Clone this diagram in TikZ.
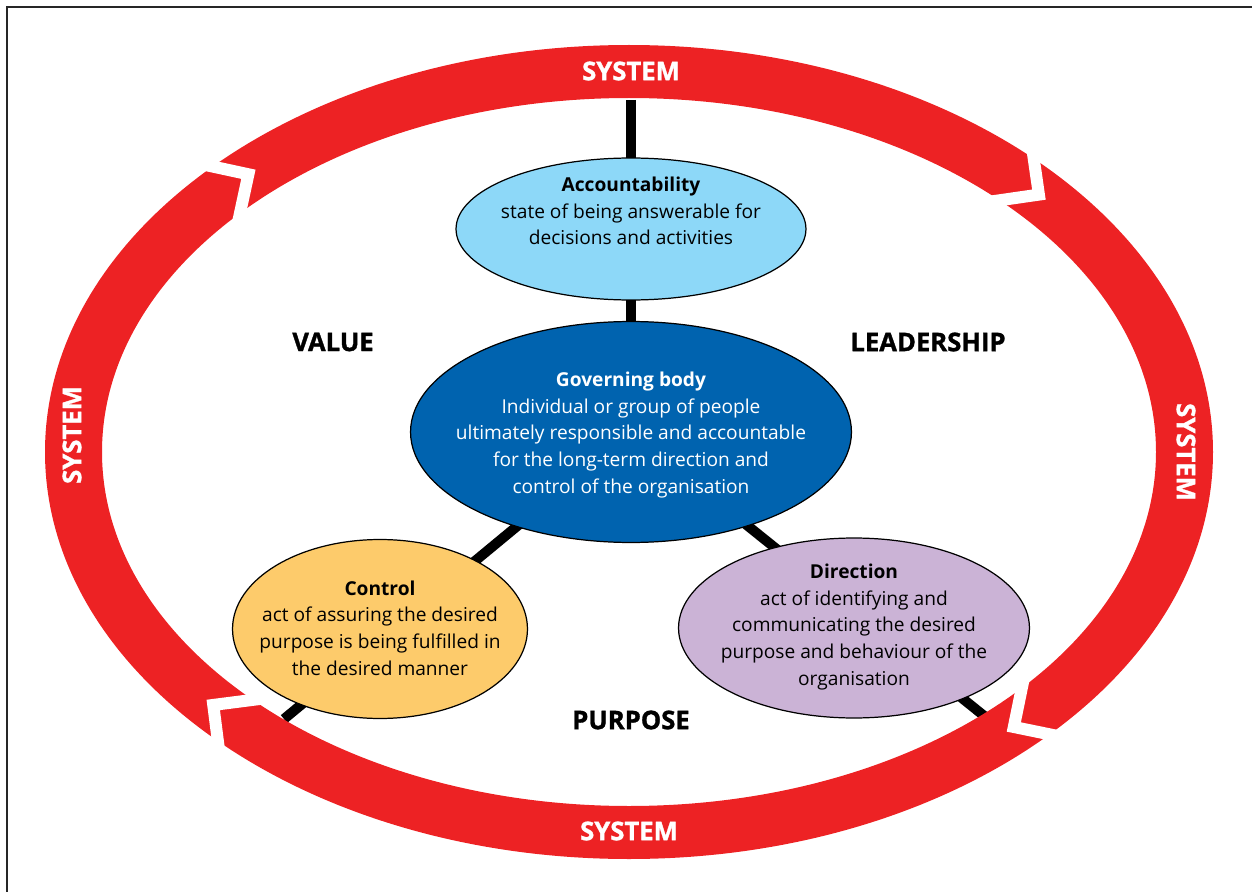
\documentclass[tikz,border=0pt]{standalone}
\usepackage{fontspec}
\setmainfont{Open Sans}
\newfontfamily\heavyfont{Open Sans}[FakeBold=1.2]
\usetikzlibrary{shapes.geometric}
\usetikzlibrary{backgrounds}
\definecolor{sysred}{RGB}{237,34,36}
\definecolor{acccol}{RGB}{141,216,248}
\definecolor{govcol}{RGB}{0,99,175}
\definecolor{ctrlcol}{RGB}{253,203,107}
\definecolor{dircol}{RGB}{203,179,214}

\begin{document}
\begin{tikzpicture}[x=0.02cm,y=-0.02cm,
		bubble/.style={ellipse,draw=black,line width=0.7pt,inner sep=0pt},
		txt/.style={align=center,font=\fontsize{10.9}{15.2}\selectfont},
		word/.style={font=\fontsize{14.6}{16}\selectfont\heavyfont\bfseries},
		sysword/.style={word,text=white},
		link/.style={line width=0.2cm},
		gap/.style={draw=white,line width=0.24cm}
	]
	\useasboundingbox (0,0) rectangle (1252,892);
	\draw [line width=1.2pt, black!85] (7,892) -- (7,7) -- (1252,7);
	
	\node [bubble, fill=acccol, minimum width=7cm, minimum height=2.84cm] (acc) at (631,229) {};
	\node [bubble, fill=govcol, minimum width=8.82cm, minimum height=4.42cm] (gov) at (631,432) {};
	\node [bubble, fill=ctrlcol, minimum width=5.9cm, minimum height=3.58cm] (ctrl) at (380,629) {};
	\node [bubble, fill=dircol, minimum width=7.02cm, minimum height=3.6cm] (dir) at (854,628) {};
	
	\node [txt] (acctxt) at (631,211) {\textbf{Accountability}\\state of being answerable for\\decisions and activities};
	\node [txt, text=white] (govtxt) at (631,435) {\textbf{Governing body}\\Individual or group of people\\ultimately responsible and accountable\\for the long-term direction and\\control of the organisation};
	\node [txt] (ctrltxt) at (380,628) {\textbf{Control}\\act of assuring the desired\\purpose is being fulfilled in\\the desired manner};
	\node [txt] (dirtxt) at (854,627) {\textbf{Direction}\\act of identifying and\\communicating the desired\\purpose and behaviour of the\\organisation};
	
	\coordinate (ringtop) at (631,100);
	\coordinate (ringleft) at (284,719);
	\coordinate (ringright) at (988,719);
	
	\begin{scope}[on background layer]
		\draw [link] (ringtop) -- (acc.center) -- (gov.center);
		\draw [link] (gov.center) -- (ringleft);
		\draw [link] (gov.center) -- (ringright);
		\fill [sysred, even odd rule] (629,452) ellipse [x radius=584, y radius=407] (629,452) ellipse [x radius=527, y radius=354];
		\begin{scope}[even odd rule]
			\clip (629,452) ellipse [x radius=590, y radius=413] (629,452) ellipse [x radius=521, y radius=348];
			\foreach \t/\a in {-133.2/32.8, -42.5/-36.8, 46.2/-146.6, 138.4/142.3}
			\draw [gap, shift={({629+556*cos(\t)},{452+381*sin(\t)})}, rotate=\a] (-45,-45) -- (0,0) -- (-45,45);
		\end{scope}
	\end{scope}
	
	\node [word] (value) at (333,342) {VALUE};
	\node [word] (leader) at (928,342) {LEADERSHIP};
	\node [word] (purpose) at (631,720) {PURPOSE};
	
	\node [sysword] (systop) at (631,71) {SYSTEM};
	\node [sysword] (sysbot) at (629,831) {SYSTEM};
	\node [sysword, rotate=90] (sysleft) at (72,435) {SYSTEM};
	\node [sysword, rotate=-90] (sysright) at (1186,452) {SYSTEM};
\end{tikzpicture}
\end{document}
